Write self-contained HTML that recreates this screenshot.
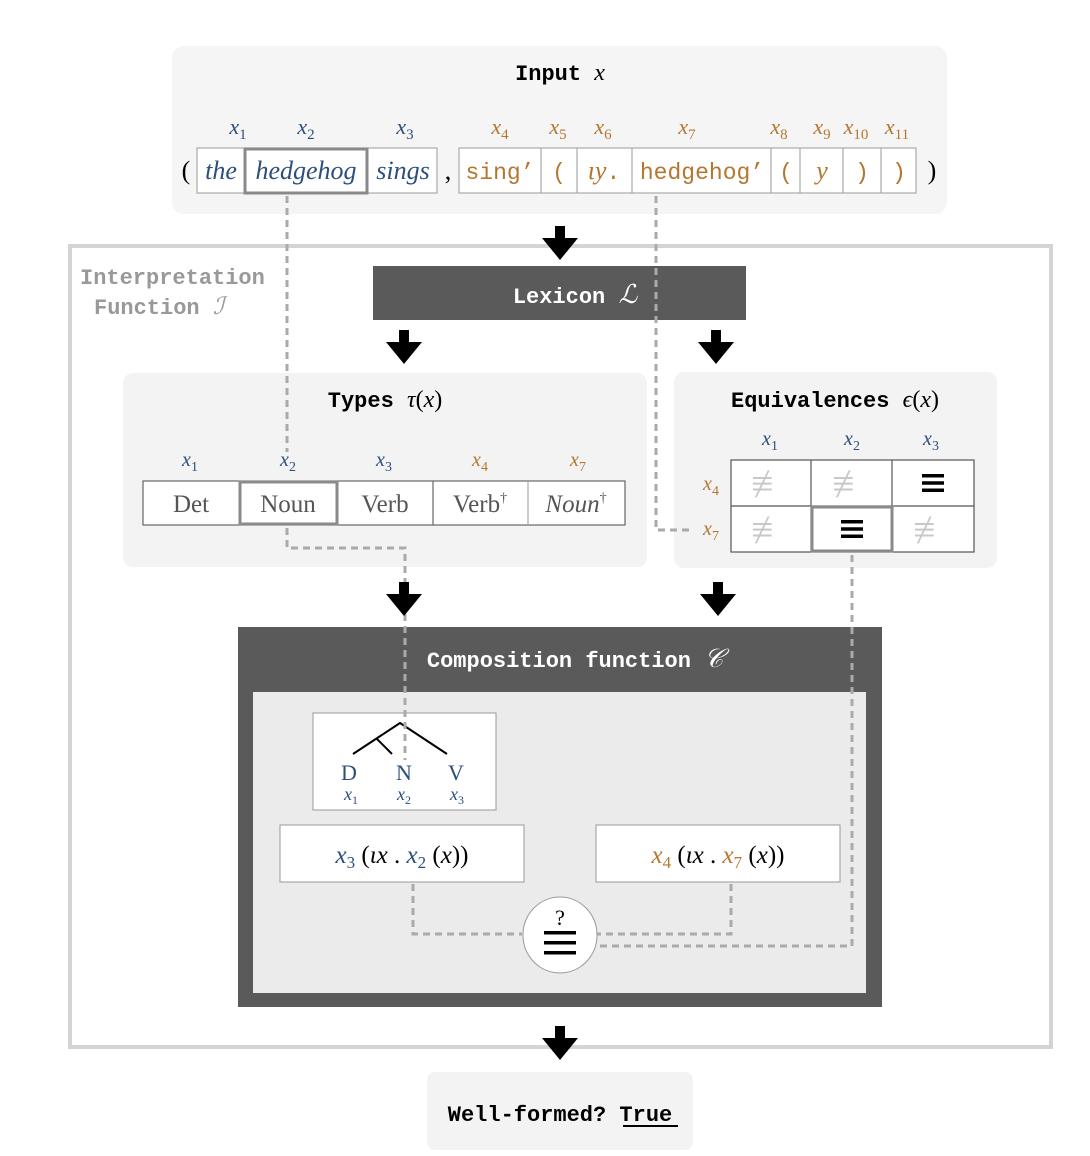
<!DOCTYPE html>
<html><head><meta charset="utf-8"><style>
html,body{margin:0;padding:0;background:#fff}
svg{display:block}
.h{font-family:"Liberation Mono",monospace;font-weight:bold;font-size:22px}
.m{font-family:"Liberation Serif",serif;font-style:italic}
.s{font-family:"Liberation Serif",serif}
.mo{font-family:"Liberation Mono",monospace}
.b{fill:#2c4f7c}.o{fill:#b5772f}
.u{font-style:normal}
</style></head><body>
<svg width="1090" height="1156" viewBox="0 0 1090 1156" xmlns="http://www.w3.org/2000/svg">
<defs>
<g id="ar"><rect x="-5" y="0" width="10" height="14" fill="#000"/><polygon points="-18,12 18,12 0,34" fill="#000"/></g>
<g id="eq"><rect x="-11" y="-9" width="22" height="3.5"/><rect x="-11" y="-1.75" width="22" height="3.5"/><rect x="-11" y="5.5" width="22" height="3.5"/></g>
</defs>
<rect x="70" y="246" width="981" height="801" fill="none" stroke="#d4d4d4" stroke-width="4"/>
<rect x="172" y="46" width="775" height="168" rx="12" fill="#f5f5f5"/>
<text x="560" y="80" text-anchor="middle" class="h">Input <tspan class="m" font-weight="normal" font-size="24">x</tspan></text>
<g class="m" font-size="22" text-anchor="middle">
<text x="238" y="134" class="b">x<tspan class="u" font-size="15" dy="5">1</tspan></text>
<text x="306" y="134" class="b">x<tspan class="u" font-size="15" dy="5">2</tspan></text>
<text x="405" y="134" class="b">x<tspan class="u" font-size="15" dy="5">3</tspan></text>
<text x="500" y="134" class="o">x<tspan class="u" font-size="15" dy="5">4</tspan></text>
<text x="558" y="134" class="o">x<tspan class="u" font-size="15" dy="5">5</tspan></text>
<text x="603" y="134" class="o">x<tspan class="u" font-size="15" dy="5">6</tspan></text>
<text x="687" y="134" class="o">x<tspan class="u" font-size="15" dy="5">7</tspan></text>
<text x="779" y="134" class="o">x<tspan class="u" font-size="15" dy="5">8</tspan></text>
<text x="822" y="134" class="o">x<tspan class="u" font-size="15" dy="5">9</tspan></text>
<text x="856" y="134" class="o">x<tspan class="u" font-size="15" dy="5">10</tspan></text>
<text x="897" y="134" class="o">x<tspan class="u" font-size="15" dy="5">11</tspan></text>
</g>
<g fill="#fff" stroke="#aaa" stroke-width="1.2">
<rect x="197" y="148" width="240" height="45"/>
<rect x="459" y="148" width="457" height="45"/>
</g>
<g stroke="#aaa" stroke-width="1.2">
<line x1="541" y1="148" x2="541" y2="193"/><line x1="577" y1="148" x2="577" y2="193"/><line x1="632" y1="148" x2="632" y2="193"/><line x1="771" y1="148" x2="771" y2="193"/><line x1="800" y1="148" x2="800" y2="193"/><line x1="843" y1="148" x2="843" y2="193"/><line x1="881" y1="148" x2="881" y2="193"/>
</g>
<rect x="245" y="149" width="122" height="44" fill="none" stroke="#8a8a8a" stroke-width="3"/>
<g font-size="26" text-anchor="middle">
<text x="186" y="179" class="s">(</text>
<text x="221" y="179" class="m b">the</text>
<text x="306" y="179" class="m b">hedgehog</text>
<text x="403" y="179" class="m b">sings</text>
<text x="448" y="179" class="s">,</text>
<text x="932" y="179" class="s">)</text>
</g>
<g class="mo o" font-size="23" text-anchor="middle">
<text x="500" y="179">sing’</text>
<text x="559" y="179">(</text>
<text x="604" y="179"><tspan class="m" font-size="26">ιy</tspan>.</text>
<text x="702" y="179">hedgehog’</text>
<text x="786" y="179">(</text>
<text x="822" y="179" class="m" font-size="26">y</text>
<text x="862" y="179">)</text>
<text x="899" y="179">)</text>
</g>
<text x="80" y="284" class="h" fill="#999">Interpretation</text>
<text x="94" y="314" class="h" fill="#999">Function <tspan class="m" font-weight="normal" font-size="24">ℐ</tspan></text>
<rect x="373" y="266" width="373" height="54" fill="#5a5a5a"/>
<text x="575" y="303" text-anchor="middle" class="h" fill="#fff">Lexicon <tspan class="m" font-weight="normal" font-size="26">ℒ</tspan></text>
<rect x="123" y="373" width="524" height="194" rx="10" fill="#f3f3f3"/>
<text x="385" y="407" text-anchor="middle" class="h">Types <tspan class="m" font-weight="normal" font-size="24">τ</tspan><tspan class="s" font-weight="normal" font-size="24">(</tspan><tspan class="m" font-weight="normal" font-size="24">x</tspan><tspan class="s" font-weight="normal" font-size="24">)</tspan></text>
<g class="m" font-size="20" text-anchor="middle">
<text x="190" y="466" class="b">x<tspan class="u" font-size="14" dy="5">1</tspan></text>
<text x="288" y="466" class="b">x<tspan class="u" font-size="14" dy="5">2</tspan></text>
<text x="384" y="466" class="b">x<tspan class="u" font-size="14" dy="5">3</tspan></text>
<text x="480" y="466" class="o">x<tspan class="u" font-size="14" dy="5">4</tspan></text>
<text x="578" y="466" class="o">x<tspan class="u" font-size="14" dy="5">7</tspan></text>
</g>
<rect x="143" y="481" width="482" height="44" fill="#fff" stroke="#666" stroke-width="1.2"/>
<g stroke="#666" stroke-width="1.2"><line x1="337" y1="481" x2="337" y2="525"/><line x1="433" y1="481" x2="433" y2="525"/><line x1="528" y1="481" x2="528" y2="525" stroke="#aaa"/></g>
<rect x="240" y="482" width="97" height="42" fill="none" stroke="#8a8a8a" stroke-width="3"/>
<g font-size="25" text-anchor="middle" fill="#555">
<text x="191" y="512" class="s">Det</text>
<text x="288" y="512" class="s">Noun</text>
<text x="385" y="512" class="s">Verb</text>
<text x="480" y="512" class="s">Verb<tspan font-size="14" dy="-10">†</tspan></text>
<text x="576" y="512" class="m">Noun<tspan font-size="14" dy="-10" font-style="normal">†</tspan></text>
</g>
<rect x="674" y="372" width="323" height="196" rx="10" fill="#f3f3f3"/>
<text x="835" y="407" text-anchor="middle" class="h">Equivalences <tspan class="m" font-weight="normal" font-size="24">ϵ</tspan><tspan class="s" font-weight="normal" font-size="24">(</tspan><tspan class="m" font-weight="normal" font-size="24">x</tspan><tspan class="s" font-weight="normal" font-size="24">)</tspan></text>
<g class="m" font-size="20" text-anchor="middle">
<text x="770" y="445" class="b">x<tspan class="u" font-size="14" dy="5">1</tspan></text>
<text x="852" y="445" class="b">x<tspan class="u" font-size="14" dy="5">2</tspan></text>
<text x="931" y="445" class="b">x<tspan class="u" font-size="14" dy="5">3</tspan></text>
<text x="711" y="490" class="o">x<tspan class="u" font-size="14" dy="5">4</tspan></text>
<text x="711" y="535" class="o">x<tspan class="u" font-size="14" dy="5">7</tspan></text>
</g>
<rect x="731" y="460" width="243" height="92" fill="#fff" stroke="#555" stroke-width="1.2"/>
<g stroke="#555" stroke-width="1.2"><line x1="811" y1="460" x2="811" y2="552"/><line x1="892" y1="460" x2="892" y2="552"/><line x1="731" y1="506" x2="974" y2="506"/></g>
<rect x="812" y="507" width="80" height="44" fill="none" stroke="#8a8a8a" stroke-width="3"/>
<g font-size="40" text-anchor="middle" class="s" fill="#c8c8c8">
<text x="771" y="497">≢</text>
<text x="852" y="497">≢</text>
<text x="771" y="543">≢</text>
<text x="933" y="543">≢</text>
</g>
<use href="#eq" x="933" y="483"/>
<use href="#eq" x="852" y="529"/>
<rect x="238" y="627" width="644" height="380" fill="#5a5a5a"/>
<rect x="253" y="692" width="613" height="301" fill="#ebebeb"/>
<text x="575" y="667" text-anchor="middle" class="h" fill="#fff">Composition function <tspan class="m" font-weight="normal" font-size="26">𝒞</tspan></text>
<rect x="313" y="713" width="183" height="97" fill="#fff" stroke="#999"/>
<g stroke="#000" stroke-width="2" fill="none"><polyline points="353,754 400,723 447,754"/><line x1="377" y1="739" x2="392" y2="754"/></g>
<g text-anchor="middle">
<text x="349" y="780" font-size="22" class="s b">D</text>
<text x="404" y="780" font-size="22" class="s b">N</text>
<text x="456" y="780" font-size="22" class="s b">V</text>
<text x="351" y="800" font-size="18" class="m b">x<tspan class="u" font-size="12" dy="4">1</tspan></text>
<text x="404" y="800" font-size="18" class="m b">x<tspan class="u" font-size="12" dy="4">2</tspan></text>
<text x="457" y="800" font-size="18" class="m b">x<tspan class="u" font-size="12" dy="4">3</tspan></text>
</g>
<rect x="280" y="825" width="244" height="57" fill="#fff" stroke="#999"/>
<rect x="596" y="825" width="244" height="57" fill="#fff" stroke="#999"/>
<text x="402" y="863" text-anchor="middle" font-size="25" class="s"><tspan class="m b">x</tspan><tspan class="b" font-size="17" dy="5">3</tspan><tspan dy="-5"> (</tspan><tspan class="m">ιx</tspan> . <tspan class="m b">x</tspan><tspan class="b" font-size="17" dy="5">2</tspan><tspan dy="-5"> (</tspan><tspan class="m">x</tspan>))</text>
<text x="718" y="863" text-anchor="middle" font-size="25" class="s"><tspan class="m o">x</tspan><tspan class="o" font-size="17" dy="5">4</tspan><tspan dy="-5"> (</tspan><tspan class="m">ιx</tspan> . <tspan class="m o">x</tspan><tspan class="o" font-size="17" dy="5">7</tspan><tspan dy="-5"> (</tspan><tspan class="m">x</tspan>))</text>
<g stroke="#aaa" stroke-width="3" stroke-dasharray="7,5" fill="none">
<line x1="287" y1="196" x2="287" y2="452"/>
<polyline points="287,528 287,548 405,548 405,760"/>
<polyline points="656,196 656,530 692,530"/>
<polyline points="852,555 852,946 597,946"/>
<polyline points="413,884 413,934 522,934"/>
<polyline points="731,884 731,934 597,934"/>
</g>
<ellipse cx="560" cy="935" rx="37" ry="38" fill="#fff" stroke="#999"/>
<text x="560" y="925" text-anchor="middle" font-size="22" class="s">?</text>
<g fill="#000"><rect x="544" y="931" width="32" height="3.5"/><rect x="544" y="941" width="32" height="3.5"/><rect x="544" y="951" width="32" height="3.5"/></g>
<use href="#ar" x="560" y="226"/>
<use href="#ar" x="404" y="330"/>
<use href="#ar" x="716" y="330"/>
<use href="#ar" x="404" y="582"/>
<use href="#ar" x="718" y="582"/>
<use href="#ar" x="560" y="1026"/>
<rect x="427" y="1072" width="266" height="78" rx="8" fill="#f3f3f3"/>
<text x="560" y="1121" text-anchor="middle" class="h">Well-formed? True</text>
<line x1="623" y1="1126" x2="678" y2="1126" stroke="#000" stroke-width="2"/>
</svg>
</body></html>
